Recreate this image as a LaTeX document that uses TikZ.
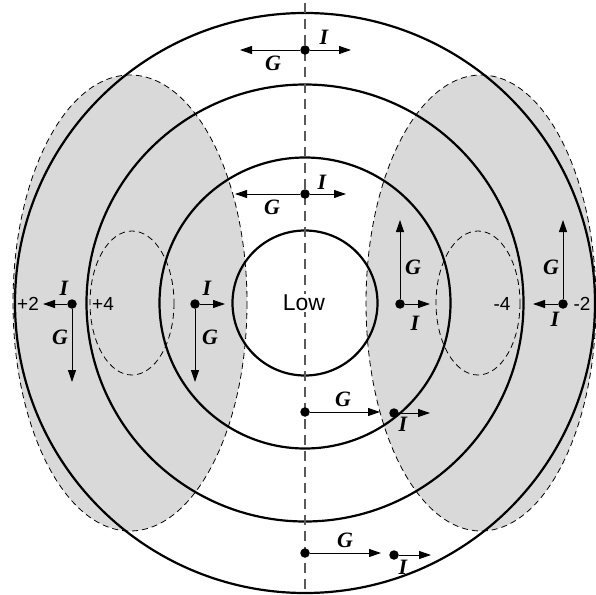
\documentclass[tikz,border=0pt]{standalone}
\usepackage{fontspec}
\setmainfont{Liberation Sans}
\newfontfamily\vecfont{Liberation Serif}
\usetikzlibrary{arrows.meta}

\tikzset{
  ring/.style={line width=2.2bp},
  zone/.style={fill=black!15},
  zoneedge/.style={line width=0.8bp, dash pattern=on 6bp off 4bp},
  axis/.style={black!65, line width=1.2bp, dash pattern=on 10bp off 6bp},
  vec/.style={line width=0.9bp, -{Triangle[length=12bp,width=8bp]}},
  dot/.style={circle, fill, inner sep=0pt, minimum size=9.5bp},
  vlab/.style={font=\vecfont\bfseries\itshape\fontsize{22}{22}\selectfont, inner sep=0pt},
  num/.style={font=\fontsize{19}{19}\selectfont, inner sep=0pt},
}

\begin{document}
\begin{tikzpicture}[x=1bp, y=-1bp]
\useasboundingbox (0,0) rectangle (596,595);

% shaded zones
\fill[zone] (130,303) ellipse [x radius=117, y radius=228];
\fill[zone] (481,303) ellipse [x radius=115, y radius=228];
\draw[zoneedge] (130,303) ellipse [x radius=117, y radius=228];
\draw[zoneedge] (481,303) ellipse [x radius=115, y radius=228];
\draw[zoneedge] (132,303) ellipse [x radius=42, y radius=72];
\draw[zoneedge] (478,303) ellipse [x radius=42, y radius=72];

% rings
\coordinate (O) at (305,303);
\foreach \r in {72.5,145.5,218.5,290}
  \draw[ring] (O) circle [radius=\r];

% axis
\coordinate (ax1) at (305,3);
\coordinate (ax2) at (305,595);
\draw[axis] (ax1) -- (ax2);

\node[fill=white, inner sep=1bp, font=\fontsize{23}{23}\selectfont] (low) at (304,303) {Low};

% top
\node[dot] (t1) at (305,50) {};
\coordinate (t1i) at (351,50);
\coordinate (t1g) at (240,50);
\draw[vec] (t1) -- (t1i);
\draw[vec] (t1) -- (t1g);
\node[vlab] at (324,37) {I};
\node[vlab] at (273,63) {G};

\node[dot] (t2) at (305,194) {};
\coordinate (t2i) at (346,194);
\coordinate (t2g) at (235,194);
\draw[vec] (t2) -- (t2i);
\draw[vec] (t2) -- (t2g);
\node[vlab] at (322,182) {I};
\node[vlab] at (272,207) {G};

% left
\node[dot] (l1) at (72,304) {};
\coordinate (l1i) at (43,304);
\coordinate (l1g) at (72,382);
\draw[vec] (l1) -- (l1i);
\draw[vec] (l1) -- (l1g);
\node[vlab] at (64,288) {I};
\node[vlab] at (60,337) {G};
\node[num] at (28,304) {+2};
\node[num] at (103,304) {+4};

\node[dot] (l2) at (195,304) {};
\coordinate (l2i) at (225,304);
\coordinate (l2g) at (195,382);
\draw[vec] (l2) -- (l2i);
\draw[vec] (l2) -- (l2g);
\node[vlab] at (207,288) {I};
\node[vlab] at (210,337) {G};

% right
\node[dot] (r2) at (400,304) {};
\coordinate (r2i) at (430,304);
\coordinate (r2g) at (400,220);
\draw[vec] (r2) -- (r2i);
\draw[vec] (r2) -- (r2g);
\node[vlab] at (415,323) {I};
\node[vlab] at (413,267) {G};
\node[num] at (502,304) {-4};

\node[dot] (r1) at (563,304) {};
\coordinate (r1i) at (533,304);
\coordinate (r1g) at (563,220);
\draw[vec] (r1) -- (r1i);
\draw[vec] (r1) -- (r1g);
\node[vlab] at (555,319) {I};
\node[vlab] at (551,267) {G};
\node[num] at (582,304) {-2};

% bottom
\node[dot] (b1) at (305,412) {};
\coordinate (b1g) at (380,412);
\draw[vec] (b1) -- (b1g);
\node[vlab] at (343,399) {G};
\node[dot] (b2) at (394,413) {};
\coordinate (b2i) at (430,413);
\draw[vec] (b2) -- (b2i);
\node[vlab] at (403,424) {I};

\node[dot] (b3) at (305,553) {};
\coordinate (b3g) at (381,553);
\draw[vec] (b3) -- (b3g);
\node[vlab] at (345,540) {G};
\node[dot] (b4) at (394,555) {};
\coordinate (b4i) at (431,555);
\draw[vec] (b4) -- (b4i);
\node[vlab] at (403,567) {I};
\end{tikzpicture}
\end{document}
